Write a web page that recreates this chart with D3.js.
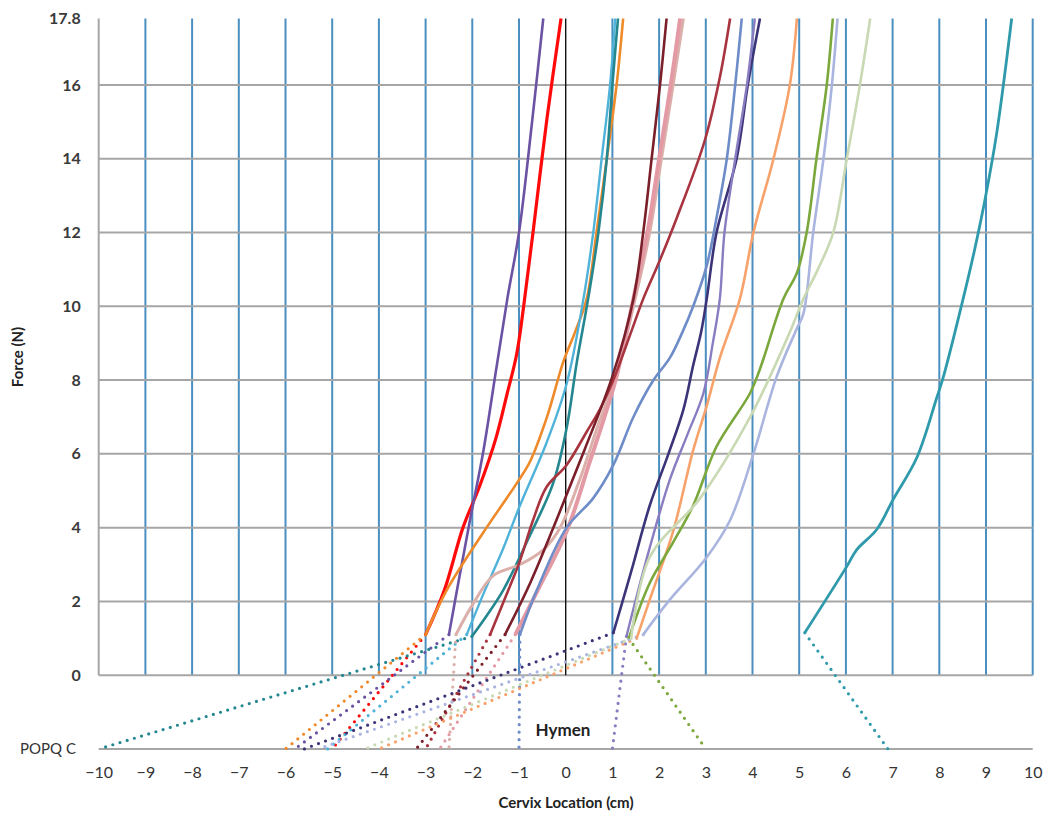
<!DOCTYPE html>
<html lang="en">
<head>
    <meta charset="UTF-8">
    <title>Cervix Location vs Force</title>
    <script src="https://cdn.jsdelivr.net/npm/d3@7"></script>
    <style>
        body { margin: 0; background: #fff; }
        text { font-family: Lato, "Open Sans", sans-serif; }
    </style>
</head>
<body>
<svg></svg>
<script>
    var width = 1050;
    var height = 827;

    // axis ticks
    var xTicks = d3.range(-10, 11);
    var yTicks = [0, 2, 4, 6, 8, 10, 12, 14, 16, 17.8];
    var popqLevel = -2;

    // each subject: solid curve [cervix location, force] from ~1 N upward
    var redCurve = [[-3,1.1],[-2.6,2.3],[-2.2,4.0],[-1.85,5.1],[-1.5,6.4],[-1.26,7.6],[-1.05,8.7],[-0.9,10],[-0.7,12],[-0.4,15.1],[-0.1,17.8]];
    var purpleCurve = [[-2.5,1.1],[-2.3,2.5],[-2.05,4.2],[-1.76,6.1],[-1.5,8.2],[-1.25,10.2],[-1.0,12],[-0.72,15],[-0.48,17.8]];
    var orangeCurve = [[-3,1.1],[-2.55,2.3],[-1.8,3.8],[-1.05,5.2],[-0.76,5.8],[-0.4,7.0],[-0.05,8.5],[0.2,9.3],[0.45,10.2],[0.66,12],[0.88,14],[1.09,16],[1.23,17.8]];
    var skyCurve = [[-2.12,1.1],[-1.73,2.3],[-1.35,3.4],[-0.98,4.6],[-0.41,6.3],[0.02,7.9],[0.38,10.2],[0.59,12],[0.77,14],[0.95,16],[1.06,17.8]];
    var tealCurve = [[-2.01,1.05],[-1.7,1.6],[-1.34,2.3],[-0.8,3.7],[-0.27,5.2],[0.02,6.7],[0.24,8.5],[0.48,10.2],[0.7,12],[0.88,14],[1.0,16],[1.12,17.8]];
    var palePinkCurve = [[-2.35,1.1],[-2.0,1.9],[-1.55,2.7],[-0.98,3.0],[-0.48,3.4],[-0.12,4.0],[0.3,5.3],[0.7,6.8],[1.1,8.2],[1.45,10],[1.8,12],[2.05,14],[2.3,16],[2.52,17.8]];
    var roseCurve = [[-1.08,1.1],[-0.6,2.3],[0.02,3.9],[0.52,5.8],[0.88,7.2],[1.09,8.1],[1.45,10.2],[1.75,12],[2.0,14],[2.25,16],[2.45,17.8]];
    var brickCurve = [[-1.62,1.1],[-1.23,2.3],[-0.98,3.1],[-0.7,4.2],[-0.41,5.1],[0.02,5.7],[0.45,6.6],[0.73,7.2],[1.02,8.0],[1.4,9.3],[1.66,10.2],[2.0,11.2],[2.38,12.4],[2.98,14.5],[3.3,16.2],[3.52,17.8]];
    var maroonCurve = [[-1.3,1.1],[-0.76,2.5],[-0.2,4.2],[0.4,6.1],[1.0,8.1],[1.45,10.2],[1.66,12],[1.84,14],[2.02,16],[2.16,17.8]];
    var slateCurve = [[-0.98,1.1],[-0.62,2.3],[0.02,4.0],[0.59,4.8],[1.02,5.7],[1.45,7.0],[1.88,8.0],[2.23,8.6],[2.5,9.3],[2.73,10],[3.02,11.1],[3.23,12.4],[3.45,14],[3.63,16],[3.77,17.8]];
    var indigoCurve = [[1.02,1.15],[1.4,2.8],[1.8,4.6],[2.2,6.0],[2.52,7.2],[2.73,8.4],[2.9,9.3],[3.02,10.2],[3.23,12],[3.66,14],[3.9,16],[4.16,17.8]];
    var violetCurve = [[1.3,1.05],[1.7,3.0],[2.23,5.3],[2.6,6.5],[2.95,7.65],[3.15,9],[3.3,10.2],[3.4,12],[3.63,14],[3.88,16],[4.05,17.8]];
    var peachCurve = [[1.52,1.0],[1.8,2.05],[2.3,3.9],[2.73,6.1],[3.02,7.3],[3.3,8.6],[3.73,10.2],[4.02,12],[4.45,14],[4.8,16],[4.95,17.8]];
    var greenCurve = [[1.35,1.0],[1.8,2.5],[2.3,3.6],[2.73,4.6],[3.23,6.2],[3.95,7.65],[4.16,8.3],[4.66,10.2],[4.95,10.9],[5.16,12],[5.37,14],[5.59,16],[5.72,17.8]];
    var lavenderCurve = [[1.66,1.1],[2.2,2.0],[3.02,3.2],[3.52,4.2],[4.02,6.0],[4.52,8.1],[4.95,9.4],[5.09,9.8],[5.3,12],[5.52,14],[5.7,16],[5.82,17.8]];
    var sageCurve = [[1.4,1.0],[1.8,3.2],[2.88,4.8],[3.95,7.0],[4.8,9.3],[5.09,10.2],[5.4,11],[5.73,12],[6.02,14],[6.3,16],[6.52,17.8]];
    var aquaCurve = [[5.12,1.15],[6.02,2.95],[6.23,3.4],[6.66,3.95],[7.01,4.76],[7.52,5.9],[7.94,7.5],[8.09,8.1],[8.51,10.2],[8.75,11.5],[8.98,12.9],[9.23,14.7],[9.55,17.8]];

    var curves = [redCurve, purpleCurve, orangeCurve, skyCurve, tealCurve, palePinkCurve, roseCurve,
                  brickCurve, maroonCurve, slateCurve, indigoCurve, violetCurve, peachCurve,
                  greenCurve, lavenderCurve, sageCurve, aquaCurve];
    // POPQ C point of each subject (x at the POPQ C row)
    var popq = [-5, -5.8, -6, -5.1, -10, -2.5, -2.7, -3, -3.2, -1, -5.6, 1, -4, 3, -5.3, -4.3, 6.9];

    var colors = ['#ff0a0a', '#6b52a3', '#ee8a2a', '#4fb2d8', '#24878f', '#dcb0aa', '#e39aa5',
                  '#a8343f', '#7b1f2a', '#6e8cc8', '#3b3478', '#8a7cc0', '#f7a26a',
                  '#7ba83c', '#aab5df', '#c9d9b4', '#2f9aab'];
    var widths = [3.2, 2.6, 2.6, 2.4, 2.6, 3, 4, 2.6, 2.6, 2.6, 2.6, 2.4, 2.6, 2.6, 2.6, 2.6, 2.8];

    var svg = d3.select('svg')
                .attr('width', width)
                .attr('height', height);

    var x = d3.scaleLinear().domain([-10, 10]).range([98.7, 1032.7]);
    var y = d3.scaleLinear().domain([-2, 17.8]).range([749, 18.5]);

    // vertical grid (blue), only above the x axis
    svg.append('g').selectAll('line')
        .data(xTicks.filter(function(d){ return d !== -10 && d !== 0; }))
        .enter().append('line')
        .attr('x1', function(d){ return x(d); })
        .attr('x2', function(d){ return x(d); })
        .attr('y1', y(0))
        .attr('y2', y(17.8))
        .attr('stroke', '#4a8fc0')
        .attr('stroke-width', 2);

    // horizontal grid (gray)
    svg.append('g').selectAll('line')
        .data(yTicks.filter(function(d){ return d < 17; }))
        .enter().append('line')
        .attr('x1', x(-10))
        .attr('x2', x(10))
        .attr('y1', function(d){ return y(d); })
        .attr('y2', function(d){ return y(d); })
        .attr('stroke', '#a6a6a6')
        .attr('stroke-width', 2);

    // left axis line
    svg.append('line')
        .attr('x1', x(-10)).attr('x2', x(-10))
        .attr('y1', y(0)).attr('y2', y(17.8))
        .attr('stroke', '#a6a6a6').attr('stroke-width', 2);

    // POPQ C row
    svg.append('line')
        .attr('x1', x(-10)).attr('x2', x(10))
        .attr('y1', y(popqLevel)).attr('y2', y(popqLevel))
        .attr('stroke', '#a6a6a6').attr('stroke-width', 2);

    // black line at the hymen (x = 0)
    svg.append('line')
        .attr('x1', x(0)).attr('x2', x(0))
        .attr('y1', y(0)).attr('y2', y(17.8))
        .attr('stroke', '#111').attr('stroke-width', 1.4);

    // y axis labels
    var yAxis = d3.axisLeft(y)
        .tickValues(yTicks)
        .tickSize(0)
        .tickPadding(18)
        .tickFormat(function(d){ return d === 17.8 ? '17.8' : d; });
    var gy = svg.append('g').attr('transform', 'translate(' + x(-10) + ',0)').call(yAxis);
    gy.select('.domain').remove();
    gy.selectAll('text')
        .style('font-family', 'Lato, sans-serif')
        .style('font-size', '16px')
        .style('font-weight', 'bold')
        .attr('fill', '#3a3a3a');

    // x axis labels under the POPQ C row
    var xAxis = d3.axisBottom(x)
        .tickValues(xTicks)
        .tickSize(0)
        .tickPadding(18)
        .tickFormat(d3.format('d'));
    var gx = svg.append('g').attr('transform', 'translate(0,' + y(popqLevel) + ')').call(xAxis);
    gx.select('.domain').remove();
    gx.selectAll('text')
        .style('font-family', 'Lato, sans-serif')
        .style('font-size', '16px')
        .attr('fill', '#333');

    svg.append('text')
        .attr('x', 48).attr('y', y(popqLevel))
        .attr('dy', '0.35em')
        .attr('text-anchor', 'middle')
        .style('font-size', '15px')
        .attr('fill', '#333')
        .text('POPQ C');

    svg.append('text')
        .attr('x', 563).attr('y', 730)
        .attr('dy', '0.35em')
        .attr('text-anchor', 'middle')
        .style('font-size', '17px')
        .style('font-weight', 'bold')
        .attr('fill', '#222')
        .text('Hymen');

    svg.append('text')
        .attr('x', 566).attr('y', 803)
        .attr('dy', '0.35em')
        .attr('text-anchor', 'middle')
        .style('font-size', '15px')
        .style('font-weight', 'bold')
        .attr('fill', '#222')
        .text('Cervix Location (cm)');

    svg.append('text')
        .attr('transform', 'translate(18,357) rotate(-90)')
        .attr('dy', '0.35em')
        .attr('text-anchor', 'middle')
        .style('font-size', '15px')
        .style('font-weight', 'bold')
        .attr('fill', '#222')
        .text('Force (N)');

    // dotted links from first measured point down to the POPQ C value
    svg.append('g').selectAll('line')
        .data(curves)
        .enter().append('line')
        .attr('x1', function(d){ return x(d[0][0]); })
        .attr('y1', function(d){ return y(d[0][1]); })
        .attr('x2', function(d, i){ return x(popq[i]); })
        .attr('y2', y(popqLevel))
        .attr('stroke', function(d, i){ return colors[i]; })
        .attr('stroke-width', 3.2)
        .attr('stroke-linecap', 'round')
        .attr('stroke-dasharray', '0 7.5');

    // solid force curves
    var line = d3.line()
        .x(function(d){ return x(d[0]); })
        .y(function(d){ return y(d[1]); })
        .curve(d3.curveCatmullRom.alpha(0.5));

    svg.append('g').selectAll('path')
        .data(curves)
        .enter().append('path')
        .attr('d', line)
        .attr('fill', 'none')
        .attr('stroke', function(d, i){ return colors[i]; })
        .attr('stroke-width', function(d, i){ return widths[i]; })
        .attr('stroke-linejoin', 'round');
</script>
</body>
</html>
